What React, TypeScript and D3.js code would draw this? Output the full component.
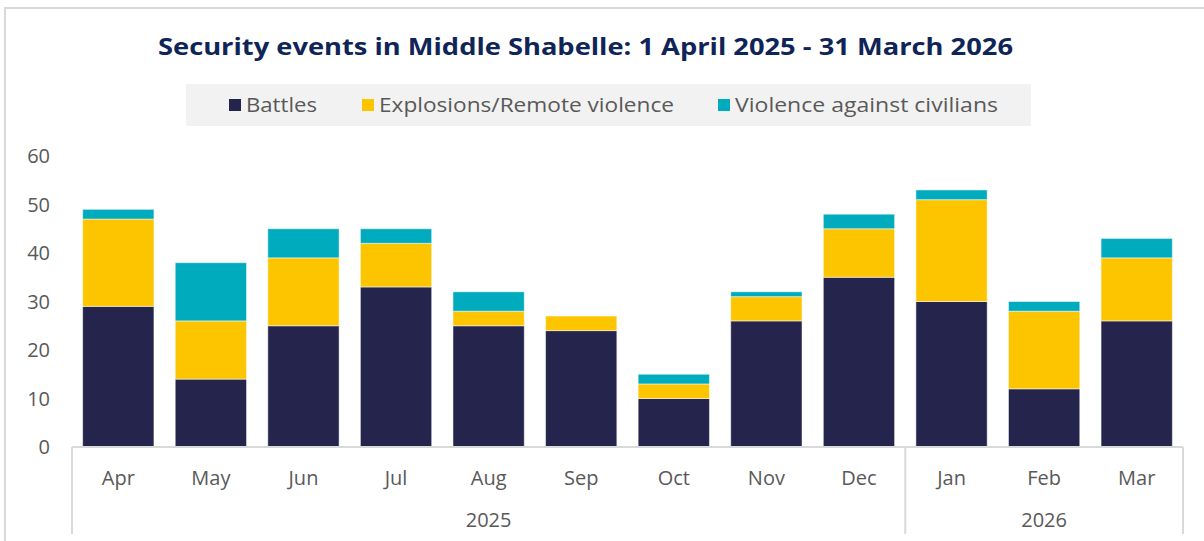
import React from "react";
import * as d3 from "d3";

const months = ["Apr", "May", "Jun", "Jul", "Aug", "Sep", "Oct", "Nov", "Dec", "Jan", "Feb", "Mar"];
const years = [
  { label: "2025", from: 0, to: 8 },
  { label: "2026", from: 9, to: 11 },
];
const battles = [29, 14, 25, 33, 25, 24, 10, 26, 35, 30, 12, 26];
const explosions = [18, 12, 14, 9, 3, 3, 3, 5, 10, 21, 16, 13];
const civilians = [2, 12, 6, 3, 4, 0, 2, 1, 3, 2, 2, 4];
const seriesNames = ["Battles", "Explosions/Remote violence", "Violence against civilians"];
const seriesColors = ["#24244c", "#fdc500", "#00abbd"];
const yTicks = [0, 10, 20, 30, 40, 50, 60];

const W = 1204;
const H = 541;
const FONT = "'Open Sans', Lato, sans-serif";
const TXT = "#595959";
const GRID = "#d9d9d9";

export default function App() {
  const x0 = 72, x1 = 1183, y0 = 447, yTop = 156;
  const x = d3.scaleBand<string>().domain(months).range([x0, x1]).paddingInner(0.23).paddingOuter(0.115);
  const y = d3.scaleLinear().domain([0, 60]).range([y0, yTop]);
  const step = x.step();

  const rows = months.map((m, i) => ({ m, s0: battles[i], s1: explosions[i], s2: civilians[i] }));
  const stack = d3.stack<any>().keys(["s0", "s1", "s2"])(rows);

  const legendItems = [
    { x: 229, w: 71, text: seriesNames[0], color: seriesColors[0] },
    { x: 362, w: 295, text: seriesNames[1], color: seriesColors[1] },
    { x: 718, w: 263, text: seriesNames[2], color: seriesColors[2] },
  ];

  return (
    <svg width={W} height={H} style={{ position: "absolute", left: 0, top: 0, background: "#fff" }} fontFamily={FONT}>
      <line x1={5} y1={7} x2={5} y2={H} stroke={GRID} strokeWidth={2} />
      <line x1={4} y1={8} x2={W} y2={8} stroke={GRID} strokeWidth={2} />

      <text x={158} y={55} fontSize={24} fontWeight={700} fill="#0f2557" textLength={855} lengthAdjust="spacingAndGlyphs">
        Security events in Middle Shabelle: 1 April 2025 - 31 March 2026
      </text>

      <rect x={186} y={84} width={845} height={42} fill="#f2f2f2" />
      {legendItems.map((l) => (
        <g key={l.text}>
          <rect x={l.x} y={99} width={12} height={12} fill={l.color} />
          <text x={l.x + 17} y={112} fontSize={20} fill={TXT} textLength={l.w} lengthAdjust="spacingAndGlyphs">{l.text}</text>
        </g>
      ))}

      {yTicks.map((t) => (
        <text key={t} x={50} y={y(t) + 7} textAnchor="end" fontSize={20} fill={TXT}>{t}</text>
      ))}

      {stack.map((layer, si) => (
        <g key={si} fill={seriesColors[si]}>
          {layer.map((d, i) => {
            const h = y(d[0]) - y(d[1]);
            if (h <= 0) return null;
            return (
              <rect key={i} x={x(months[i])} y={y(d[1])} width={x.bandwidth()} height={h}
                stroke="#ffffff" strokeOpacity={0.5} strokeWidth={1} />
            );
          })}
        </g>
      ))}

      <line x1={x0} y1={y0} x2={x1} y2={y0} stroke={GRID} strokeWidth={2} />
      {[0, 9, 12].map((k) => (
        <line key={k} x1={x0 + k * step} y1={y0} x2={x0 + k * step} y2={534} stroke={GRID} strokeWidth={2} />
      ))}
      {months.map((m) => (
        <text key={m} x={(x(m) as number) + x.bandwidth() / 2} y={485} textAnchor="middle" fontSize={20} fill={TXT}>{m}</text>
      ))}
      {years.map((yr) => (
        <text key={yr.label} x={x0 + ((yr.from + yr.to + 1) / 2) * step} y={527} textAnchor="middle" fontSize={20} fill={TXT}>{yr.label}</text>
      ))}
    </svg>
  );
}
